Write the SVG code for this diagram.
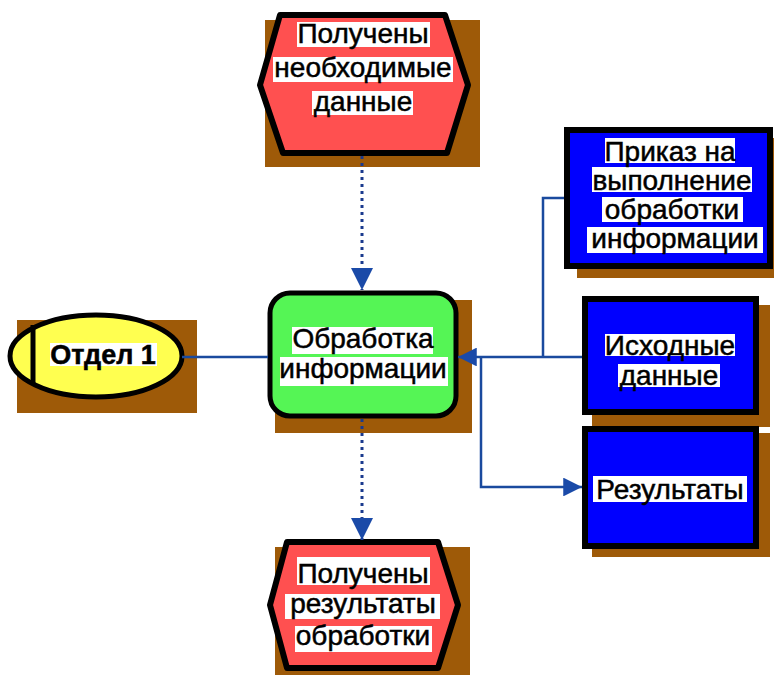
<svg xmlns="http://www.w3.org/2000/svg" width="774" height="675" viewBox="0 0 774 675">
<defs>
<style>
.sh{fill:#9e5a08}
.txt{font-family:"Liberation Sans",Arial,sans-serif;font-size:28px;fill:#000;stroke:#000;stroke-width:0.5;text-anchor:middle}
.bg{fill:#fff}
.con{fill:none;stroke:#1a4a9e;stroke-width:2.5}
.dot{fill:none;stroke:#1a3a8e;stroke-width:3;stroke-dasharray:3 4}
</style>
<marker id="ah" viewBox="0 0 10 10" refX="10" refY="5" markerWidth="7.5" markerHeight="7.5" markerUnits="strokeWidth" orient="auto">
<path d="M0,0 L10,5 L0,10 Z" fill="#1a4aa8"/>
</marker>
</defs>
<rect width="774" height="675" fill="#fff"/>

<g id="node-top">
<rect class="sh" x="265" y="20" width="215" height="147"/>
<polygon points="280,15 445,15 468,85 447,153 283,153 260,85" fill="#ff5050" stroke="#000" stroke-width="6" stroke-linejoin="round"/>
<rect class="bg" x="297" y="22" width="133" height="25"/>
<rect class="bg" x="273" y="57" width="180" height="25"/>
<rect class="bg" x="312" y="91" width="101" height="24"/>
<text class="txt" x="363" y="43">Получены</text>
<text class="txt" x="363" y="77">необходимые</text>
<text class="txt" x="363" y="111">данные</text>
</g>

<g id="node-otdel">
<rect class="sh" x="17" y="320" width="180" height="93"/>
<ellipse cx="96" cy="356" rx="86" ry="41" fill="#ffff50" stroke="#000" stroke-width="5"/>
<line x1="33" y1="325" x2="33" y2="384" stroke="#000" stroke-width="5"/>
<rect class="bg" x="50" y="343" width="107" height="23"/>
<text class="txt" x="103" y="364" style="font-weight:bold;font-size:27px">Отдел 1</text>
</g>

<g id="node-process">
<rect class="sh" x="275" y="300" width="197" height="133"/>
<rect x="270" y="293" width="186" height="123" rx="20" fill="#55f555" stroke="#000" stroke-width="5"/>
<rect class="bg" x="292" y="327" width="141" height="27"/>
<rect class="bg" x="280" y="357" width="168" height="29"/>
<text class="txt" x="363" y="348">Обработка</text>
<text class="txt" x="363" y="378">информации</text>
</g>

<g id="node-prikaz">
<rect class="sh" x="577" y="138" width="198" height="140"/>
<rect x="567" y="130" width="203" height="136" fill="#0000ff" stroke="#000" stroke-width="6"/>
<rect class="bg" x="605" y="138" width="130" height="25"/>
<rect class="bg" x="592" y="167" width="160" height="25"/>
<rect class="bg" x="602" y="197" width="141" height="25"/>
<rect class="bg" x="587" y="227" width="176" height="26"/>
<text class="txt" x="670" y="161">Приказ на</text>
<text class="txt" x="672" y="190">выполнение</text>
<text class="txt" x="672" y="219">обработки</text>
<text class="txt" x="675" y="248">информации</text>
</g>

<g id="node-ishodnye">
<rect class="sh" x="592" y="305" width="178" height="122"/>
<rect x="585" y="299" width="171" height="113" fill="#0000ff" stroke="#000" stroke-width="6"/>
<rect class="bg" x="605" y="334" width="130" height="22"/>
<rect class="bg" x="618" y="364" width="102" height="23"/>
<text class="txt" x="670" y="355">Исходные</text>
<text class="txt" x="669" y="385">данные</text>
</g>

<g id="node-rezultaty">
<rect class="sh" x="592" y="433" width="178" height="124"/>
<rect x="585" y="429" width="171" height="117" fill="#0000ff" stroke="#000" stroke-width="6"/>
<rect class="bg" x="593" y="476" width="154" height="26"/>
<text class="txt" x="670" y="499">Результаты</text>
</g>

<g id="node-bottom">
<rect class="sh" x="275" y="547" width="195" height="135"/>
<polygon points="287,542 438,542 458,605 438,668 287,668 270,605" fill="#ff5050" stroke="#000" stroke-width="6" stroke-linejoin="round"/>
<rect class="bg" x="297" y="557" width="133" height="28"/>
<rect class="bg" x="285" y="594" width="155" height="25"/>
<rect class="bg" x="295" y="626" width="137" height="26"/>
<text class="txt" x="363" y="583">Получены</text>
<text class="txt" x="363" y="613">результаты</text>
<text class="txt" x="363" y="645">обработки</text>
</g>

<g id="connectors">
<path class="dot" d="M362,156 V290" marker-end="url(#ah)"/>
<path class="dot" d="M362,419 V540" marker-end="url(#ah)"/>
<path class="con" d="M182,357 H268"/>
<path class="con" d="M564,198 H543 V357"/>
<path class="con" d="M582,357 H458" marker-end="url(#ah)"/>
<path class="con" d="M481,357 V487 H582" marker-end="url(#ah)"/>
</g>
</svg>
